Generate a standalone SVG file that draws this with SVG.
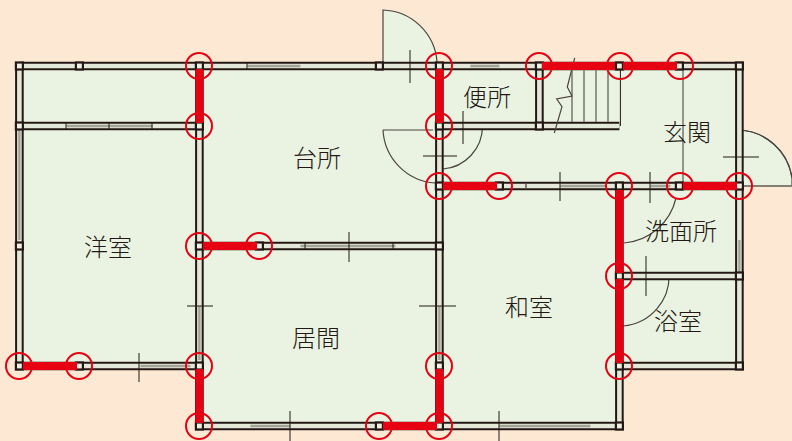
<svg xmlns="http://www.w3.org/2000/svg" width="792" height="441" viewBox="0 0 792 441">
<style>
.wo{fill:none;stroke:#231815;stroke-width:8.6}
.wi{fill:none;stroke:#e3e8d8;stroke-width:4.6}
.win{fill:none;stroke:#a3a397;stroke-width:2.4}
.t{fill:none;stroke:#231815;stroke-width:1}
.g{fill:none;stroke:#77776e;stroke-width:1.5}
.door{fill:#eaf3e1;stroke:#4a4541;stroke-width:1.2}
.arc{fill:none;stroke:#4a4541;stroke-width:1.2}
.post{fill:#eef0e4;stroke:#231815;stroke-width:2.2}
.red{fill:#e60012}
.c{fill:none;stroke:#e60012;stroke-width:2}
text{font-family:"Noto Sans CJK JP","Noto Sans",sans-serif;font-size:24px;font-weight:300;fill:#231815;text-anchor:middle}
</style>
<defs>
<path id="walls" d="M19 66H739V366H619M19 66V366H199M19 126H199M199 66V426H619V186M439 66V426M199 246H439M439 186H739M619 276H739M619 366V426M439 126H539M539 66V126H619"/>
<rect id="p" x="-3.500" y="-3.500" width="7" height="7" class="post"/>
</defs>
<rect width="792" height="441" fill="#fde9d3"/>
<path id="floor" d="M19 66H739V366H619V426H199V366H19Z" fill="#eaf3e1"/>
<g id="doors">
<path class="door" d="M383 66V10A56 56 0 0 1 437 62V66Z"/>
<path class="door" d="M737 130A56 56 0 0 1 792 178V186H737Z" stroke="none"/>
<path class="arc" d="M739 130A56 56 0 0 1 792 178"/>
<path class="g" d="M740 186H792"/>
<path class="arc" d="M383 130H433M383 130A56 56 0 0 0 435 183M482.500 126A43 43 0 0 1 443 169"/>
<path class="arc" d="M676 198A58 58 0 0 1 624 243M669 273A50 50 0 0 1 623 326"/>
</g>
<g id="walls-group" transform="translate(0.4 0)">
<use href="#walls" class="wo"/>
<use href="#walls" class="wi"/>
<path class="t" d="M620 66V126" stroke-width="2"/>
<path class="win" d="M66 126H152M247 66H300M470 66H499M560 186H605M199 306V360M439 306V360M19 130V240M300 246H395M140 366H190M250 426H290M499 426H590M739 240V272M650 186H670"/>
</g>
<g id="stairs">
<path class="g" d="M572 70V122M584 70V122M596 70V122M608 70V122M683 70V182"/>
<path class="arc" d="M574.700 58L567.300 87L572 96L556.700 99L562 106.700L554.300 133"/>
</g>
<g id="ticks">
<path class="t" d="M410 50V83M463 111V144M423 156H457M560 172V201M650 172V203M723 157H759M646 256V296M139 353V382M187 306H213M419 306H456M349 232V262M290 411V441M499 411V441"/>
<path class="t" d="M247 62V70M66 122V130M152 122V130M109 122V130M305 242V250M393 242V250M526 184V188"/>
</g>
<g id="posts">
<use href="#p" x="19.400" y="66"/><use href="#p" x="79.400" y="66"/><use href="#p" x="199.400" y="66"/><use href="#p" x="379.400" y="66"/><use href="#p" x="439.400" y="66"/><use href="#p" x="539.400" y="66"/><use href="#p" x="619.400" y="66"/><use href="#p" x="679.400" y="66"/><use href="#p" x="739.400" y="66"/>
<use href="#p" x="19.400" y="126"/><use href="#p" x="199.400" y="126"/><use href="#p" x="439.400" y="126"/><use href="#p" x="539.400" y="126"/>
<use href="#p" x="439.400" y="186"/><use href="#p" x="499.400" y="186"/><use href="#p" x="619.400" y="186"/><use href="#p" x="679.400" y="186"/><use href="#p" x="739.400" y="186"/>
<use href="#p" x="19.400" y="246"/><use href="#p" x="199.400" y="246"/><use href="#p" x="259.400" y="246"/><use href="#p" x="439.400" y="246"/>
<use href="#p" x="619.400" y="276"/><use href="#p" x="739.400" y="276"/>
<use href="#p" x="19.400" y="366"/><use href="#p" x="79.400" y="366"/><use href="#p" x="199.400" y="366"/><use href="#p" x="439.400" y="366"/><use href="#p" x="619.400" y="366"/><use href="#p" x="739.400" y="366"/>
<use href="#p" x="199.400" y="426"/><use href="#p" x="379.400" y="426"/><use href="#p" x="439.400" y="426"/><use href="#p" x="619.400" y="426"/>
</g>
<g id="red-walls">
<rect class="red" x="195.500" y="69" width="8" height="54"/>
<rect class="red" x="195.500" y="369" width="8" height="54"/>
<rect class="red" x="435.500" y="69" width="8" height="54"/>
<rect class="red" x="435.500" y="369" width="8" height="54"/>
<rect class="red" x="615.500" y="190" width="8" height="83"/>
<rect class="red" x="615.500" y="279" width="8" height="84"/>
<rect class="red" x="542" y="62" width="73" height="8"/>
<rect class="red" x="623" y="62" width="54" height="8"/>
<rect class="red" x="443" y="182" width="54" height="8"/>
<rect class="red" x="683" y="182" width="54" height="8"/>
<rect class="red" x="203" y="242" width="54" height="8"/>
<rect class="red" x="23" y="362" width="54" height="8"/>
<rect class="red" x="383" y="422" width="54" height="8"/>
</g>
<g id="markers">
<circle class="c" cx="199" cy="66" r="13"/><circle class="c" cx="199" cy="126" r="13"/><circle class="c" cx="439" cy="66" r="13"/><circle class="c" cx="439" cy="126" r="13"/><circle class="c" cx="539" cy="66" r="13"/><circle class="c" cx="620" cy="66" r="13"/><circle class="c" cx="680" cy="66" r="13"/>
<circle class="c" cx="439" cy="186" r="13"/><circle class="c" cx="499" cy="186" r="13"/><circle class="c" cx="619" cy="186" r="13"/><circle class="c" cx="680" cy="186" r="13"/><circle class="c" cx="739" cy="186" r="13"/>
<circle class="c" cx="199" cy="246" r="13"/><circle class="c" cx="259" cy="246" r="13"/><circle class="c" cx="619" cy="276" r="13"/><circle class="c" cx="619" cy="366" r="13"/>
<circle class="c" cx="19" cy="366" r="13"/><circle class="c" cx="79" cy="366" r="13"/><circle class="c" cx="199" cy="366" r="13"/><circle class="c" cx="439" cy="366" r="13"/>
<circle class="c" cx="199" cy="426" r="13"/><circle class="c" cx="379" cy="426" r="13"/><circle class="c" cx="439" cy="426" r="13"/>
</g>
<g id="labels">
<text x="487" y="106">便所</text>
<text x="317" y="167">台所</text>
<text x="687" y="141">玄関</text>
<text x="681" y="240">洗面所</text>
<text x="678" y="330">浴室</text>
<text x="529" y="316">和室</text>
<text x="108" y="256">洋室</text>
<text x="316" y="347">居間</text>
</g>
</svg>
